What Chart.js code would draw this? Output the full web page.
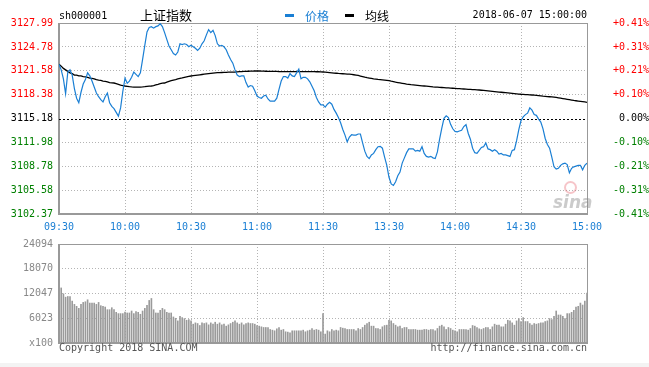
<!DOCTYPE html>
<html lang="zh">
<head>
    <meta charset="UTF-8">
    <title>上证指数 分时</title>
    <script src="https://cdn.jsdelivr.net/npm/chart.js"></script>
    <style>
        body { margin: 0; background: #fff; }
        #wrap { position: relative; width: 649px; height: 367px; overflow: hidden; }
        canvas { position: absolute; left: 0; }
        .t { position: absolute; white-space: nowrap; font: 10px/12px "DejaVu Sans Mono", monospace; }
        .cjk { font-family: "Noto Sans CJK SC", sans-serif; }
    </style>
</head>
<body>
<div id="wrap">
    <canvas id="priceCanvas" width="649" height="232" style="top:0"></canvas>
    <canvas id="volCanvas" width="649" height="125" style="top:232px"></canvas>

    <div class="t" style="left:59px; top:10px; color:#000">sh000001</div>
    <div class="t cjk" style="left:140px; top:7px; font-size:13px; line-height:16px; color:#000">上证指数</div>
    <div style="position:absolute; left:285px; top:14px; width:9px; height:3px; background:#1a7fd4"></div>
    <div class="t cjk" style="left:305px; top:8px; font-size:12px; line-height:15px; color:#1a7fd4">价格</div>
    <div style="position:absolute; left:345px; top:14px; width:9px; height:3px; background:#000"></div>
    <div class="t cjk" style="left:365px; top:8px; font-size:12px; line-height:15px; color:#000">均线</div>
    <div class="t" style="right:62px; top:9px; color:#000">2018-06-07 15:00:00</div>

    <!-- watermark -->
    <div style="position:absolute; left:564px; top:181px; width:9px; height:9px; border:2px solid rgba(230,90,100,0.35); border-radius:50%"></div>
    <div class="t" style="left:553px; top:192px; font:italic bold 17px/20px 'DejaVu Sans', sans-serif; color:rgba(140,140,140,0.45)">sina</div>

    <div class="t" style="left:59px; top:342px; color:#555">Copyright 2018 SINA.COM</div>
    <div class="t" style="right:62px; top:342px; color:#555">http://finance.sina.com.cn</div>
    <div style="position:absolute; left:0; top:363px; width:649px; height:4px; background:#f3f3f3"></div>
</div>

<script>
    // tick labels
    const timeLabels = ['09:30', '10:00', '10:30', '11:00', '11:30', '13:30', '14:00', '14:30', '15:00'];
    const priceTicks = [3102.37, 3105.58, 3108.78, 3111.98, 3115.18, 3118.38, 3121.58, 3124.78, 3127.99];
    const pctLabels = ['-0.41%', '-0.31%', '-0.21%', '-0.10%', '0.00%', '+0.10%', '+0.21%', '+0.31%', '+0.41%'];
    const volTicks = [0, 6023, 12047, 18070, 24094];
    const volLabels = ['x100', '6023', '12047', '18070', '24094'];
    const prevClose = 3115.18;

    // one value per minute, 09:30 - 11:30 then 13:01 - 15:00
    const price = [
        3122.45, 3121.70, 3120.50, 3118.50, 3121.40, 3121.70, 3121.00, 3119.20, 3117.90, 3117.30,
        3118.70, 3119.80, 3120.40, 3121.30, 3120.90, 3120.20, 3119.40, 3118.60, 3118.10, 3117.70,
        3117.40, 3118.10, 3118.60, 3117.30, 3116.80, 3116.50, 3116.00, 3115.50, 3116.60, 3118.80,
        3120.60, 3119.90, 3120.20, 3120.70, 3121.40, 3121.10, 3120.80, 3121.30, 3123.10, 3125.00,
        3126.80, 3127.40, 3127.50, 3127.30, 3127.50, 3127.60, 3127.90, 3127.50, 3126.70, 3125.80,
        3124.90, 3124.40, 3123.90, 3123.70, 3124.10, 3125.20, 3125.10, 3125.20, 3125.10, 3124.80,
        3125.00, 3124.80, 3124.60, 3124.30, 3124.60, 3125.20, 3125.60, 3126.40, 3127.10, 3126.70,
        3127.00, 3126.30, 3125.20, 3124.90, 3125.00, 3124.80, 3124.40, 3123.70, 3123.10, 3122.60,
        3121.70, 3121.00, 3120.80, 3120.90, 3120.90, 3120.00, 3119.40, 3119.60, 3119.50, 3118.90,
        3118.20, 3118.00, 3117.90, 3118.20, 3118.30, 3117.80, 3117.50, 3117.50, 3117.50, 3117.90,
        3119.10, 3120.20, 3120.80, 3120.80, 3120.60, 3121.20, 3120.90, 3120.80, 3121.30, 3121.80,
        3120.50, 3120.70, 3120.70, 3120.50, 3120.10, 3119.50, 3118.90, 3118.00, 3117.40, 3117.00,
        3117.00, 3116.70, 3117.10, 3117.35, 3117.10, 3116.40, 3115.90, 3115.30, 3114.60, 3113.70,
        3112.95, 3112.05, 3112.70, 3113.00, 3112.95, 3112.95, 3113.10, 3113.10, 3111.90, 3110.80,
        3110.10, 3109.80, 3110.30, 3110.50, 3111.00, 3111.40, 3111.45, 3111.20, 3110.00, 3108.90,
        3107.30, 3106.40, 3106.20, 3106.70, 3107.50, 3108.00, 3109.20, 3109.90, 3110.60, 3111.10,
        3111.10, 3111.10, 3110.80, 3110.90, 3110.80, 3111.40, 3110.50, 3110.10, 3110.00, 3110.10,
        3109.90, 3109.80, 3110.70, 3112.40, 3113.90, 3115.20, 3115.55, 3115.30, 3114.40, 3113.80,
        3113.45, 3113.40, 3113.50, 3113.60, 3114.10, 3114.35, 3113.20, 3112.40, 3111.20, 3110.60,
        3110.50, 3110.90, 3111.30, 3111.40, 3111.90, 3111.10, 3111.00, 3110.80, 3111.00, 3110.80,
        3110.40, 3110.50, 3110.30, 3110.30, 3110.20, 3110.10, 3110.90, 3111.00, 3112.20, 3113.70,
        3114.90, 3115.40, 3115.70, 3115.90, 3116.60, 3116.30, 3115.70, 3115.60, 3115.10, 3114.70,
        3113.80, 3112.50, 3111.70, 3111.20, 3110.00, 3108.70, 3108.40, 3108.50, 3108.90, 3109.10,
        3109.20, 3109.00, 3107.90, 3108.50, 3108.70, 3108.80, 3108.90, 3108.90, 3108.30, 3108.90,
        3109.20
    ];

    const avgPrice = [
        3122.45, 3122.20, 3121.90, 3121.70, 3121.50, 3121.30, 3121.20, 3121.00, 3121.00, 3120.90,
        3120.90, 3120.80, 3120.75, 3120.70, 3120.60, 3120.55, 3120.50, 3120.40, 3120.34, 3120.30,
        3120.20, 3120.15, 3120.10, 3120.00, 3119.95, 3119.94, 3119.85, 3119.75, 3119.65, 3119.60,
        3119.54, 3119.50, 3119.45, 3119.42, 3119.40, 3119.40, 3119.40, 3119.40, 3119.42, 3119.45,
        3119.50, 3119.52, 3119.54, 3119.60, 3119.68, 3119.76, 3119.85, 3119.92, 3119.94, 3120.05,
        3120.15, 3120.25, 3120.33, 3120.40, 3120.48, 3120.55, 3120.62, 3120.70, 3120.76, 3120.82,
        3120.88, 3120.92, 3120.96, 3121.00, 3121.04, 3121.08, 3121.12, 3121.16, 3121.20, 3121.24,
        3121.28, 3121.30, 3121.32, 3121.34, 3121.35, 3121.36, 3121.38, 3121.39, 3121.40, 3121.41,
        3121.42, 3121.44, 3121.46, 3121.48, 3121.50, 3121.51, 3121.52, 3121.53, 3121.54, 3121.55,
        3121.55, 3121.55, 3121.54, 3121.53, 3121.52, 3121.51, 3121.50, 3121.50, 3121.49, 3121.49,
        3121.48, 3121.48, 3121.48, 3121.48, 3121.48, 3121.48, 3121.48, 3121.48, 3121.48, 3121.48,
        3121.48, 3121.47, 3121.47, 3121.47, 3121.46, 3121.46, 3121.46, 3121.45, 3121.45, 3121.44,
        3121.42, 3121.40, 3121.37, 3121.34, 3121.31, 3121.28, 3121.25, 3121.22, 3121.20, 3121.18,
        3121.16, 3121.14, 3121.12, 3121.10, 3121.05, 3121.00, 3120.95, 3120.88, 3120.80, 3120.72,
        3120.65, 3120.60, 3120.55, 3120.50, 3120.46, 3120.42, 3120.40, 3120.37, 3120.34, 3120.30,
        3120.25, 3120.18, 3120.12, 3120.05, 3120.00, 3119.95, 3119.90, 3119.85, 3119.80, 3119.76,
        3119.72, 3119.69, 3119.66, 3119.63, 3119.60, 3119.57, 3119.54, 3119.51, 3119.48, 3119.45,
        3119.42, 3119.40, 3119.38, 3119.36, 3119.34, 3119.32, 3119.30, 3119.28, 3119.26, 3119.24,
        3119.22, 3119.20, 3119.18, 3119.16, 3119.14, 3119.12, 3119.10, 3119.08, 3119.06, 3119.04,
        3119.02, 3119.00, 3118.97, 3118.94, 3118.91, 3118.88, 3118.85, 3118.82, 3118.79, 3118.76,
        3118.73, 3118.70, 3118.67, 3118.64, 3118.61, 3118.58, 3118.55, 3118.52, 3118.49, 3118.46,
        3118.43, 3118.41, 3118.39, 3118.37, 3118.35, 3118.33, 3118.31, 3118.28, 3118.25, 3118.22,
        3118.18, 3118.15, 3118.12, 3118.10, 3118.08, 3118.05, 3118.00, 3117.95, 3117.90, 3117.85,
        3117.80, 3117.75, 3117.70, 3117.65, 3117.60, 3117.56, 3117.52, 3117.48, 3117.44, 3117.40,
        3117.35
    ];

    // volume in units of 100 shares
    const volume = [
        13400, 13400, 11970, 11160, 11320, 11320, 10200, 9400, 8920, 8430,
        9400, 9880, 10040, 10520, 9720, 9720, 9720, 9400, 9880, 9080,
        8920, 8750, 8110, 8110, 8590, 8110, 7470, 7150, 7150, 7150,
        7550, 7310, 7310, 7790, 7150, 7630, 7470, 6990, 7790, 8430,
        9160, 10360, 10840, 8110, 7310, 7310, 7950, 8430, 8110, 7470,
        7310, 7310, 6340, 6020, 5380, 6500, 6180, 5940, 5540, 5700,
        5380, 4580, 4900, 4740, 4260, 4900, 4740, 4900, 4420, 4900,
        4580, 5060, 4580, 4900, 4420, 4580, 4100, 4420, 4740, 5060,
        5380, 4900, 4580, 4900, 4420, 4740, 4900, 4740, 4740, 4580,
        4260, 4100, 3940, 3780, 3780, 3780, 3290, 3130, 2970, 3450,
        3780, 3130, 3290, 2730, 2650, 2490, 2970, 2970, 2970, 2970,
        2970, 3130, 2730, 2970, 3130, 3530, 3130, 3290, 3130, 2730,
        7150, 2170, 2970, 2730, 3290, 2970, 3130, 2970, 3780, 3610,
        3530, 3290, 3290, 3290, 3290, 2970, 3530, 3290, 3780, 4340,
        4740, 5060, 4100, 4100, 3530, 3530, 3290, 3940, 4260, 4340,
        5540, 5380, 4740, 4340, 3940, 4100, 3530, 3780, 3780, 3290,
        3290, 3290, 3290, 3130, 3130, 3130, 3290, 3290, 3130, 3290,
        3290, 2970, 3530, 4100, 4340, 3940, 3290, 3780, 3530, 3130,
        2970, 2730, 3290, 3290, 3290, 3290, 3130, 3530, 4260, 4100,
        3780, 3450, 3290, 3530, 3780, 3780, 3290, 3940, 4580, 4340,
        4340, 3940, 3940, 4580, 5540, 5380, 4900, 4340, 5380, 5940,
        5220, 6180, 5220, 5220, 4740, 4340, 4740, 4580, 4740, 4900,
        4900, 5220, 5380, 5940, 5700, 6500, 7790, 6820, 6820, 6500,
        5940, 7150, 7150, 7470, 7950, 8750, 8920, 9720, 9240, 10200,
        12130
    ];

    const BLUE = '#1a7fd4';
    const GRID = '#b4b4b4';
    const FRAME = '#999999';
    const tickFont = { family: 'DejaVu Sans Mono', size: 10 };

    function sideColor(v) {
        if (v > prevClose + 0.001) return '#ff0000';
        if (v < prevClose - 0.001) return '#008000';
        return '#000000';
    }

    // gray frame round the plot, 2px on the left and bottom like the original
    const framePlugin = {
        id: 'frame',
        beforeDatasetsDraw(chart) {
            const { ctx, chartArea: a } = chart;
            ctx.save();
            ctx.fillStyle = FRAME;
            ctx.fillRect(a.left, a.top, a.right - a.left + 1, 1);
            ctx.fillRect(a.right, a.top, 1, a.bottom - a.top + 1);
            ctx.fillRect(a.left - 1, a.top, 2, a.bottom - a.top + 1);
            ctx.fillRect(a.left - 1, a.bottom - 1, a.right - a.left + 2, 2);
            // previous close line
            if (chart.options.prevClose) {
                const y = Math.round(chart.scales.y.getPixelForValue(chart.options.prevClose)) + 0.5;
                ctx.strokeStyle = '#000';
                ctx.lineWidth = 1;
                ctx.setLineDash([2, 2]);
                ctx.beginPath();
                ctx.moveTo(a.left, y);
                ctx.lineTo(a.right, y);
                ctx.stroke();
            }
            ctx.restore();
        }
    };

    const xAxis = (showLabels) => ({
        type: 'linear',
        min: 0,
        max: 240,
        offset: false,
        afterBuildTicks: s => { s.ticks = timeLabels.map((t, i) => ({ value: i * 30 })); },
        ticks: {
            display: showLabels,
            autoSkip: false,
            maxRotation: 0,
            padding: 7,
            color: BLUE,
            font: tickFont,
            callback: v => timeLabels[Math.round(v / 30)]
        },
        grid: { color: GRID, drawTicks: false, lineWidth: 1, offset: false },
        border: { display: false, dash: [1, 2] },
        afterFit: s => { s.height = showLabels ? 18 : 0; }
    });

    new Chart(document.getElementById('priceCanvas'), {
        type: 'line',
        data: {
            datasets: [
                {
                    label: '价格',
                    data: price.map((v, i) => ({ x: i, y: v })),
                    borderColor: BLUE,
                    borderWidth: 1.2,
                    pointRadius: 0,
                    tension: 0
                },
                {
                    label: '均线',
                    data: avgPrice.map((v, i) => ({ x: i, y: v })),
                    borderColor: '#000',
                    borderWidth: 1.3,
                    pointRadius: 0,
                    tension: 0
                }
            ]
        },
        options: {
            responsive: false,
            animation: false,
            prevClose: prevClose,
            layout: { padding: { top: 23, left: 0, right: 0, bottom: 0 } },
            plugins: { legend: { display: false }, tooltip: { enabled: false } },
            scales: {
                x: xAxis(true),
                y: {
                    position: 'left',
                    min: priceTicks[0],
                    max: priceTicks[priceTicks.length - 1],
                    afterBuildTicks: s => { s.ticks = priceTicks.map(v => ({ value: v })); },
                    ticks: {
                        padding: 6,
                        font: tickFont,
                        color: c => sideColor(c.tick.value),
                        callback: v => v.toFixed(2)
                    },
                    grid: {
                        drawTicks: false,
                        color: c => (Math.abs(c.tick.value - prevClose) < 0.001 ? 'rgba(0,0,0,0)' : GRID)
                    },
                    border: { display: false, dash: [1, 2] },
                    afterFit: s => { s.width = 59; }
                },
                y2: {
                    position: 'right',
                    min: priceTicks[0],
                    max: priceTicks[priceTicks.length - 1],
                    afterBuildTicks: s => { s.ticks = priceTicks.map(v => ({ value: v })); },
                    ticks: {
                        padding: 5,
                        crossAlign: 'far',
                        font: tickFont,
                        color: c => sideColor(c.tick.value),
                        callback: (v, i) => pctLabels[i]
                    },
                    grid: { display: false, drawTicks: false },
                    border: { display: false },
                    afterFit: s => { s.width = 62; }
                }
            }
        },
        plugins: [framePlugin]
    });

    new Chart(document.getElementById('volCanvas'), {
        type: 'bar',
        data: {
            datasets: [{
                label: '成交量',
                data: volume.map((v, i) => ({ x: i, y: v })),
                backgroundColor: '#9a9a9a',
                barThickness: 1
            }]
        },
        options: {
            responsive: false,
            animation: false,
            layout: { padding: { top: 11, left: 0, right: 62, bottom: 14 } },
            plugins: { legend: { display: false }, tooltip: { enabled: false } },
            scales: {
                x: xAxis(false),
                y: {
                    position: 'left',
                    min: 0,
                    max: volTicks[volTicks.length - 1],
                    afterBuildTicks: s => { s.ticks = volTicks.map(v => ({ value: v })); },
                    ticks: {
                        padding: 6,
                        font: tickFont,
                        color: '#888',
                        callback: (v, i) => volLabels[i]
                    },
                    grid: { color: GRID, drawTicks: false },
                    border: { display: false, dash: [1, 2] },
                    afterFit: s => { s.width = 59; }
                }
            }
        },
        plugins: [framePlugin]
    });
</script>
</body>
</html>
